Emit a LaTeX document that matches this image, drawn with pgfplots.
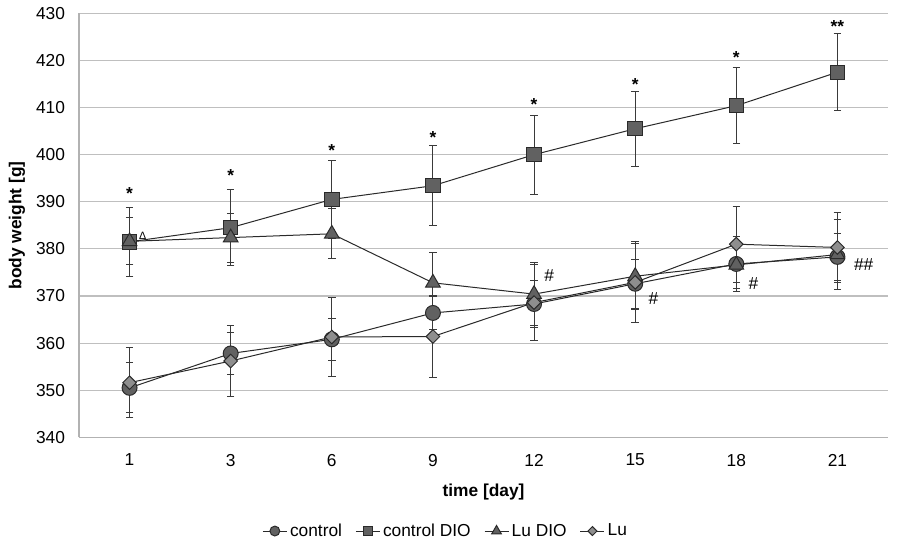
\documentclass[border=0pt]{standalone}
\usepackage{pgfplots}
\pgfplotsset{compat=1.18}
\usepackage{fontspec}
\setmainfont{Liberation Sans}
\definecolor{lineC}{HTML}{2A2A2A}
\definecolor{markA}{HTML}{616161}
\definecolor{markD}{HTML}{8E8E8E}
\definecolor{errC}{HTML}{3A3A3A}
\begin{document}
\begin{tikzpicture}
\begin{axis}[
 scale only axis, width=606.75pt, height=318pt,
 xmin=-0.5, xmax=7.5, ymin=340, ymax=430,
 xtick={0,...,7}, xticklabels={1,3,6,9,12,15,18,21},
 ytick={340,350,...,430},
 ymajorgrids, grid style={color=black!25, line width=0.9pt},
 axis x line*=bottom, axis y line*=left,
 axis line style={color=black!30, line width=0.9pt, -},
 major tick length=0pt,
 tick label style={font=\fontsize{13}{15}\selectfont},
 /pgf/number format/assume math mode=true,
 yticklabel style={xshift=-7pt}, xticklabel style={yshift=-9pt},
 xlabel={\textbf{time [day]}}, ylabel={\textbf{body weight [g]}},
 label style={font=\fontsize{13}{15}\selectfont},
 xlabel style={at={(axis description cs:0.5,-0.1297)}, anchor=center},
 ylabel style={at={(axis description cs:-0.0766,0.5)}, anchor=center},
 legend style={draw=none, at={(0.4536,-0.221)}, anchor=center, font=\fontsize{13}{15}\selectfont,
   /tikz/every even column/.append style={column sep=8pt}},
 legend columns=4,
 legend image code/.code={\draw[#1, mark size={0.66*\pgfplotmarksize}, mark repeat=2, mark phase=2] plot coordinates {(0pt,0pt) (9pt,0pt) (18pt,0pt)};},
 error bars/error bar style={color=errC, line width=0.75pt},
 error bars/error mark options={rotate=90, mark size=2.8pt, line width=0.75pt, color=errC},
]
% control
\addplot[color=lineC, line width=0.75pt, mark=*, mark size=5.6pt, mark options={fill=markA, draw=lineC, solid},
  error bars/.cd, y dir=both, y explicit] coordinates {
 (0,350.5) +- (0,5.3)
 (1,357.8) +- (0,4.4)
 (2,360.8) +- (0,4.5)
 (3,366.4) +- (0,3.5)
 (4,368.3) +- (0,5.0)
 (5,372.6) +- (0,5.2)
 (6,376.8) +- (0,5.8)
 (7,378.3) +- (0,5.0)
};
\addlegendentry{control}
% control DIO
\addplot[color=lineC, line width=0.75pt, mark=square*, mark size=5.4pt, mark options={fill=markA, draw=lineC, solid},
  error bars/.cd, y dir=both, y explicit] coordinates {
 (0,381.5) +- (0,7.3)
 (1,384.5) +- (0,8.1)
 (2,390.5) +- (0,8.2)
 (3,393.4) +- (0,8.5)
 (4,400.0) +- (0,8.4)
 (5,405.5) +- (0,8.0)
 (6,410.4) +- (0,8.0)
 (7,417.5) +- (0,8.2)
};
\addlegendentry{control DIO}
% Lu DIO
\addplot[color=lineC, line width=0.75pt, mark=triangle*, mark size=6.3pt, mark options={fill=markA, draw=lineC, solid},
  error bars/.cd, y dir=both, y explicit] coordinates {
 (0,381.6) +- (0,5.0)
 (1,382.4) +- (0,5.2)
 (2,383.2) +- (0,5.3)
 (3,372.8) +- (0,6.5)
 (4,370.4) +- (0,6.7)
 (5,374.2) +- (0,7.0)
 (6,376.6) +- (0,5.0)
 (7,378.8) +- (0,7.5)
};
\addlegendentry{Lu DIO}
% Lu
\addplot[color=lineC, line width=0.75pt, mark=square*, mark size=3.6pt, mark options={fill=markD, draw=lineC, rotate=45, solid},
  error bars/.cd, y dir=both, y explicit] coordinates {
 (0,351.6) +- (0,7.4)
 (1,356.2) +- (0,7.6)
 (2,361.3) +- (0,8.3)
 (3,361.4) +- (0,8.7)
 (4,368.6) +- (0,8.0)
 (5,372.9) +- (0,8.6)
 (6,381.0) +- (0,8.1)
 (7,380.3) +- (0,7.4)
};
\addlegendentry{Lu}
% significance marks
\begin{scope}[every node/.style={font=\fontsize{13}{15}\selectfont, inner sep=0pt}]
\node[anchor=base] at (axis cs:0,390.4) {\textbf{*}};
\node[anchor=base] at (axis cs:1,394.2) {\textbf{*}};
\node[anchor=base] at (axis cs:2,399.6) {\textbf{*}};
\node[anchor=base] at (axis cs:3,402.3) {\textbf{*}};
\node[anchor=base] at (axis cs:4,409.4) {\textbf{*}};
\node[anchor=base] at (axis cs:5,413.6) {\textbf{*}};
\node[anchor=base] at (axis cs:6,419.4) {\textbf{*}};
\node[anchor=base] at (axis cs:7,425.9) {\textbf{**}};
\node at (axis cs:4.15,374.4) {\#};
\node at (axis cs:5.18,369.4) {\#};
\node at (axis cs:6.17,372.7) {\#};
\node at (axis cs:7.26,376.6) {\#\#};
\node[font=\fontsize{8}{9}\selectfont] at (axis cs:0.13,382.8) {Δ};
\end{scope}
\coordinate (bl) at (rel axis cs:0,0);
\coordinate (tr) at (rel axis cs:1,1);
\end{axis}
\pgfresetboundingbox
\path ([shift={(-59.25pt,-83pt)}]bl) rectangle ([shift={(9pt,10pt)}]tr);
\end{tikzpicture}
\end{document}
